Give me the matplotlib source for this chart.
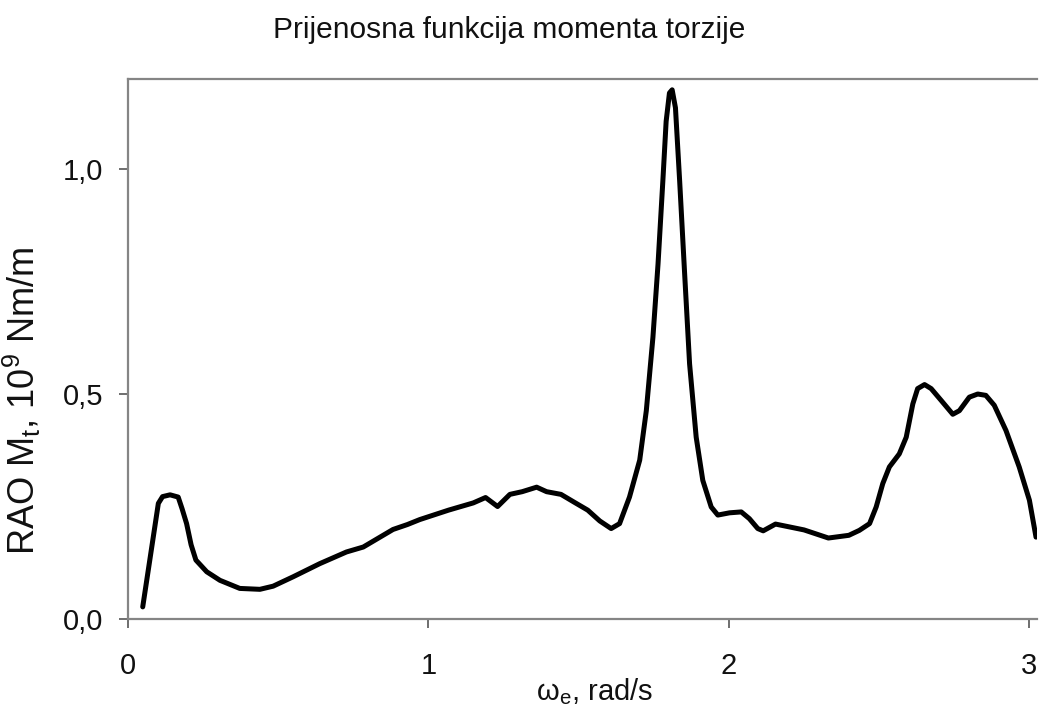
import matplotlib
matplotlib.use("Agg")
import matplotlib.pyplot as plt

plt.rcParams['font.family'] = ['Liberation Sans', 'DejaVu Sans']
plt.rcParams['mathtext.fontset'] = 'custom'
plt.rcParams['mathtext.rm'] = 'Liberation Sans'
plt.rcParams['mathtext.it'] = 'Liberation Sans:italic'

# Data
omega = [0.049, 0.101, 0.115, 0.14, 0.167, 0.18, 0.195, 0.21, 0.226, 0.262,
         0.306, 0.372, 0.439, 0.483, 0.55, 0.638, 0.727, 0.783, 0.882, 0.93,
         0.971, 1.067, 1.149, 1.19, 1.23, 1.271, 1.312, 1.36, 1.393, 1.441,
         1.489, 1.53, 1.57, 1.608, 1.636, 1.669, 1.703, 1.725, 1.747, 1.764,
         1.78, 1.791, 1.802, 1.811, 1.822, 1.836, 1.852, 1.869, 1.891, 1.913,
         1.941, 1.963, 2.002, 2.041, 2.068, 2.096, 2.114, 2.155, 2.25, 2.331,
         2.399, 2.434, 2.468, 2.49, 2.512, 2.534, 2.567, 2.59, 2.612, 2.628,
         2.651, 2.673, 2.706, 2.745, 2.767, 2.8, 2.828, 2.855, 2.883, 2.922,
         2.966, 3.0, 3.022]
rao = [0.027, 0.257, 0.272, 0.276, 0.271, 0.245, 0.212, 0.165, 0.131, 0.105,
       0.086, 0.068, 0.066, 0.073, 0.094, 0.123, 0.149, 0.160, 0.199, 0.21,
       0.221, 0.242, 0.258, 0.27, 0.25, 0.277, 0.283, 0.293, 0.283, 0.277,
       0.258, 0.242, 0.218, 0.201, 0.212, 0.271, 0.353, 0.463, 0.626, 0.789,
       0.973, 1.106, 1.169, 1.176, 1.136, 0.973, 0.774, 0.567, 0.404, 0.308,
       0.249, 0.231, 0.236, 0.238, 0.223, 0.201, 0.196, 0.211, 0.198, 0.180,
       0.186, 0.197, 0.212, 0.249, 0.301, 0.338, 0.367, 0.404, 0.478, 0.512,
       0.521, 0.512, 0.486, 0.455, 0.463, 0.493, 0.500, 0.497, 0.475, 0.419,
       0.338, 0.264, 0.182]

x_ticks = [0, 1, 2, 3]
x_tick_labels = ["0", "1", "2", "3"]
y_ticks = [0.0, 0.5, 1.0]
y_tick_labels = ["0,0", "0,5", "1,0"]

title = "Prijenosna funkcija momenta torzije"
xlabel = "\u03c9$_\\mathrm{e}$, rad/s"
ylabel = "RAO M$_\\mathrm{t}$, 10$^\\mathrm{9}$ Nm/m"

fig = plt.figure(figsize=(10.39, 7.13), dpi=100)
ax = fig.add_axes([0.1232, 0.1318, 0.8748, 0.7574])

ax.plot(omega, rao, color='black', lw=3.6, solid_joinstyle='round', solid_capstyle='round')

ax.set_xlim(0, 3.025)
ax.set_ylim(0, 1.2)
ax.set_xticks(x_ticks)
ax.set_xticklabels(x_tick_labels)
ax.set_yticks(y_ticks)
ax.set_yticklabels(y_tick_labels)

spine_color = '#858585'
for side in ['left', 'bottom', 'top']:
    ax.spines[side].set_color(spine_color)
    ax.spines[side].set_linewidth(1.6)
ax.spines['right'].set_visible(False)

ax.tick_params(axis='both', direction='out', length=6.5, width=1.2, color='#555555',
               labelsize=21, labelcolor='#111111')
ax.tick_params(axis='x', pad=17)
ax.tick_params(axis='y', pad=11.5)

ax.set_xlabel(xlabel, fontsize=21, color='#111111', va='center')
ax.xaxis.set_label_coords(0.513, -0.135)
ax.set_ylabel(ylabel, fontsize=26, color='#111111')
ax.yaxis.set_label_coords(-0.094, 0.405)

fig.text(0.49, 0.958, title, fontsize=21.5, ha='center', va='center', color='#111111')

fig.savefig("out.png", dpi=100)
